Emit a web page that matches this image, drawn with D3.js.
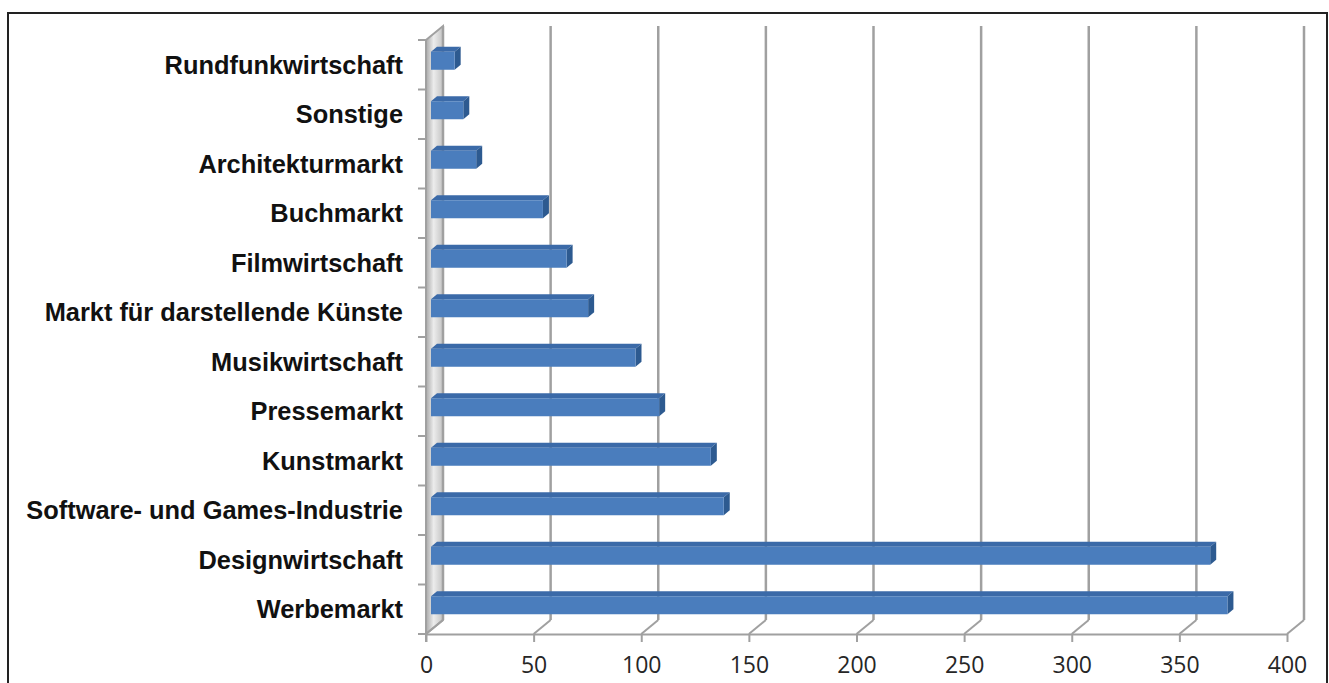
<!DOCTYPE html>
<html>
<head>
<meta charset="utf-8">
<script src="https://cdn.jsdelivr.net/npm/d3@7"></script>
<style>
  body { margin: 0; background: #fff; }
  svg { display: block; }
</style>
</head>
<body>
<script>
'use strict';

// categories top to bottom
const categories = [
  "Rundfunkwirtschaft", "Sonstige", "Architekturmarkt", "Buchmarkt",
  "Filmwirtschaft", "Markt für darstellende Künste", "Musikwirtschaft",
  "Pressemarkt", "Kunstmarkt", "Software- und Games-Industrie",
  "Designwirtschaft", "Werbemarkt"
];
const values = [11, 15, 21, 52, 63, 73, 95, 106, 130, 136, 362, 370];
const xTicks = [0, 50, 100, 150, 200, 250, 300, 350, 400];

const W = 1329, H = 683;
const svg = d3.select("body").append("svg")
  .attr("width", W)
  .attr("height", H);

// outer frame
svg.append("rect")
  .attr("x", 8).attr("y", 13)
  .attr("width", 1319).attr("height", 690)
  .attr("fill", "none")
  .attr("stroke", "#222")
  .attr("stroke-width", 2);

// front plane scales
const x = d3.scaleLinear().domain([0, 400]).range([426, 1287]);
const y = d3.scaleBand().domain(categories).range([40, 634]);
const depth = {dx: 17, dy: -14};
const gridColor = "#a0a0a0";

// left wall gradient
const defs = svg.append("defs");
const grad = defs.append("linearGradient").attr("id", "wall")
  .attr("x1", "0%").attr("x2", "100%").attr("y1", "0%").attr("y2", "0%");
grad.append("stop").attr("offset", "0%").attr("stop-color", "#a9a9a9");
grad.append("stop").attr("offset", "45%").attr("stop-color", "#ececec");
grad.append("stop").attr("offset", "100%").attr("stop-color", "#c4c4c4");

const y0 = y.range()[0], y1 = y.range()[1];
svg.append("path")
  .attr("d", "M" + x(0) + "," + y0 +
    "L" + (x(0) + depth.dx) + "," + (y0 + depth.dy) +
    "L" + (x(0) + depth.dx) + "," + (y1 + depth.dy) +
    "L" + x(0) + "," + y1 + "Z")
  .attr("fill", "url(#wall)")
  .attr("stroke", gridColor)
  .attr("stroke-width", 2);

// back wall gridlines
svg.append("g").selectAll("line")
  .data(xTicks)
  .enter().append("line")
    .attr("x1", d => x(d) + depth.dx)
    .attr("x2", d => x(d) + depth.dx)
    .attr("y1", y0 + depth.dy)
    .attr("y2", y1 + depth.dy)
    .attr("stroke", gridColor)
    .attr("stroke-width", 2.5);

// floor diagonals
svg.append("g").selectAll("line")
  .data(xTicks)
  .enter().append("line")
    .attr("x1", d => x(d))
    .attr("y1", y1)
    .attr("x2", d => x(d) + depth.dx)
    .attr("y2", y1 + depth.dy)
    .attr("stroke", gridColor)
    .attr("stroke-width", 2);

// x axis (front edge of floor)
const xAxis = svg.append("g")
  .attr("transform", "translate(0," + y1 + ")")
  .call(d3.axisBottom(x).tickValues(xTicks).tickSize(8).tickSizeOuter(0).tickPadding(15));
xAxis.select(".domain").attr("stroke", gridColor).attr("stroke-width", 2);
xAxis.selectAll(".tick line").attr("stroke", gridColor).attr("stroke-width", 2);
xAxis.selectAll(".tick text")
  .attr("font-family", "'Open Sans', sans-serif")
  .attr("font-size", "23px")
  .attr("fill", "#262626");

// left axis line and ticks at band edges
svg.append("line")
  .attr("x1", x(0)).attr("x2", x(0))
  .attr("y1", y0).attr("y2", y1 + 8)
  .attr("stroke", gridColor).attr("stroke-width", 2);
const edges = categories.map(c => y(c)).concat([y1]);
svg.append("g").selectAll("line")
  .data(edges)
  .enter().append("line")
    .attr("x1", x(0) - 8).attr("x2", x(0))
    .attr("y1", d => d).attr("y2", d => d)
    .attr("stroke", gridColor).attr("stroke-width", 2);

// category labels
svg.append("g").selectAll("text")
  .data(categories)
  .enter().append("text")
    .attr("x", 403)
    .attr("y", d => y(d) + y.bandwidth() / 2)
    .attr("dy", "0.35em")
    .attr("text-anchor", "end")
    .attr("font-family", "'Liberation Sans', Arial, sans-serif")
    .attr("font-weight", "bold")
    .attr("font-size", "25.4px")
    .attr("fill", "#111")
    .text(d => d);

// 3d bars
const barOff = {dx: 5, dy: -4};   // where the bar's front face sits in depth
const barDepth = {dx: 6, dy: -5};
const barH = 18;
const rows = categories.map((c, i) => ({name: c, value: values[i]}));
const bars = svg.append("g").selectAll("g")
  .data(rows)
  .enter().append("g");

function pts(arr) { return arr.map(p => p.join(",")).join(" "); }

bars.each(function(d) {
  const g = d3.select(this);
  const xa = x(0) + barOff.dx;
  const xb = x(d.value) + barOff.dx;
  const yc = y(d.name) + y.bandwidth() / 2 + barOff.dy;
  const top = yc - barH / 2, bot = yc + barH / 2;
  // top face
  g.append("polygon")
    .attr("points", pts([[xa, top], [xb, top], [xb + barDepth.dx, top + barDepth.dy], [xa + barDepth.dx, top + barDepth.dy]]))
    .attr("fill", "#3b6aa8");
  // right face
  g.append("polygon")
    .attr("points", pts([[xb, top], [xb + barDepth.dx, top + barDepth.dy], [xb + barDepth.dx, bot + barDepth.dy], [xb, bot]]))
    .attr("fill", "#2d5a90");
  // front face
  g.append("rect")
    .attr("x", xa).attr("y", top)
    .attr("width", xb - xa).attr("height", barH)
    .attr("fill", "#4a7dbd");
});
</script>
</body>
</html>
